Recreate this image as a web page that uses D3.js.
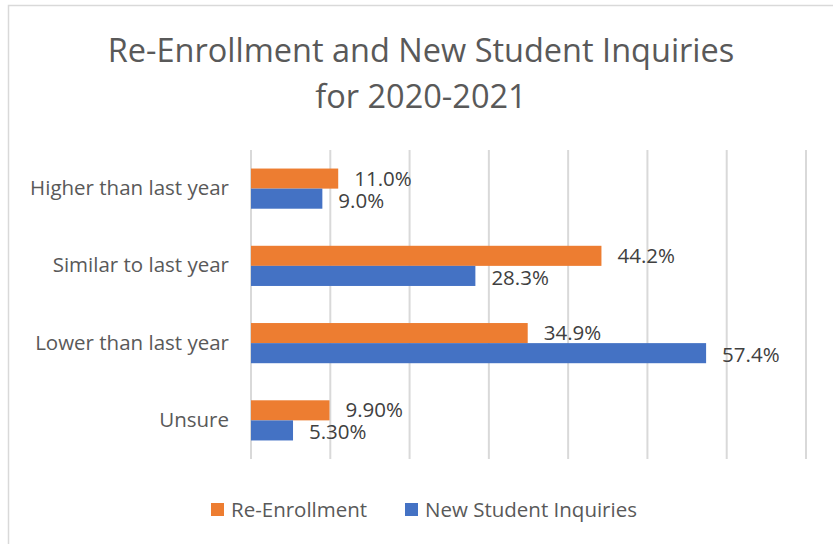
<!DOCTYPE html>
<html>
<head>
<meta charset="utf-8">
<script src="https://cdn.jsdelivr.net/npm/d3@7"></script>
<style>
  body { margin: 0; background: #fff; }
  svg { display: block; font-family: "Open Sans", sans-serif; }
</style>
</head>
<body>
<div id="chart"></div>
<script>
'use strict';

const categories = ['Higher than last year', 'Similar to last year', 'Lower than last year', 'Unsure'];
const seriesNames = ['Re-Enrollment', 'New Student Inquiries'];
const reEnrollment = [11.0, 44.2, 34.9, 9.9];
const newInquiries = [9.0, 28.3, 57.4, 5.3];
const reLabels = ['11.0%', '44.2%', '34.9%', '9.90%'];
const newLabels = ['9.0%', '28.3%', '57.4%', '5.30%'];
const xTicks = [0, 10, 20, 30, 40, 50, 60, 70];
const colors = ['#ed7d31', '#4472c4'];

const width = 833, height = 544;
const plot = { left: 251, right: 806, top: 150, bottom: 459 };
const fontFamily = '"Open Sans", sans-serif';
const labelSize = 20.5;

const svg = d3.select('#chart').append('svg')
    .attr('width', width)
    .attr('height', height);

// chart frame
svg.append('rect')
    .attr('x', 8.5).attr('y', 5.5)
    .attr('width', 840).attr('height', 560)
    .attr('fill', '#fff')
    .attr('stroke', '#d9d9d9')
    .attr('stroke-width', 1.5);

// title
svg.append('text')
    .attr('x', 421).attr('y', 62)
    .attr('text-anchor', 'middle')
    .attr('font-size', 32.5)
    .attr('fill', '#595959')
    .text('Re-Enrollment and New Student Inquiries');
svg.append('text')
    .attr('x', 421).attr('y', 108)
    .attr('text-anchor', 'middle')
    .attr('font-size', 32.5)
    .attr('fill', '#595959')
    .text('for 2020-2021');

const x = d3.scaleLinear()
    .domain([0, 70])
    .range([plot.left, plot.right]);

const y = d3.scaleBand()
    .domain(categories)
    .range([plot.top, plot.bottom])
    .paddingInner(0.48)
    .paddingOuter(0.24);

const sub = d3.scaleBand()
    .domain(seriesNames)
    .range([0, y.bandwidth()]);

// gridlines
svg.append('g')
    .selectAll('line')
    .data(xTicks)
    .join('line')
    .attr('x1', d => x(d)).attr('x2', d => x(d))
    .attr('y1', plot.top).attr('y2', plot.bottom)
    .attr('stroke', '#d9d9d9')
    .attr('stroke-width', 2);

// category axis labels
const yAxis = d3.axisLeft(y).tickSize(0).tickPadding(22);
const yg = svg.append('g')
    .attr('transform', `translate(${plot.left},0)`)
    .call(yAxis);
yg.select('.domain').remove();
yg.selectAll('text')
    .attr('font-size', labelSize)
    .attr('font-family', fontFamily)
    .attr('fill', '#595959');

const series = [
    { name: seriesNames[0], values: reEnrollment, labels: reLabels, color: colors[0], dy: 7 },
    { name: seriesNames[1], values: newInquiries, labels: newLabels, color: colors[1], dy: 9 }
];

series.forEach(s => {
    const g = svg.append('g');
    g.selectAll('rect')
        .data(categories)
        .join('rect')
        .attr('x', x(0))
        .attr('y', (d) => y(d) + sub(s.name))
        .attr('width', (d, i) => x(s.values[i]) - x(0))
        .attr('height', sub.bandwidth())
        .attr('fill', s.color);
    g.selectAll('text')
        .data(categories)
        .join('text')
        .attr('x', (d, i) => x(s.values[i]) + 16)
        .attr('y', (d) => y(d) + sub(s.name) + sub.bandwidth() / 2 + s.dy)
        .attr('font-size', labelSize)
        .attr('fill', '#404040')
        .text((d, i) => s.labels[i]);
});

// legend
const legendX = [211, 405];
const legend = svg.append('g')
    .selectAll('g')
    .data(series)
    .join('g')
    .attr('transform', (d, i) => `translate(${legendX[i]},503)`);
legend.append('rect')
    .attr('width', 13).attr('height', 13)
    .attr('fill', d => d.color);
legend.append('text')
    .attr('x', 20).attr('y', 14)
    .attr('font-size', labelSize)
    .attr('fill', '#595959')
    .text(d => d.name);
</script>
</body>
</html>
